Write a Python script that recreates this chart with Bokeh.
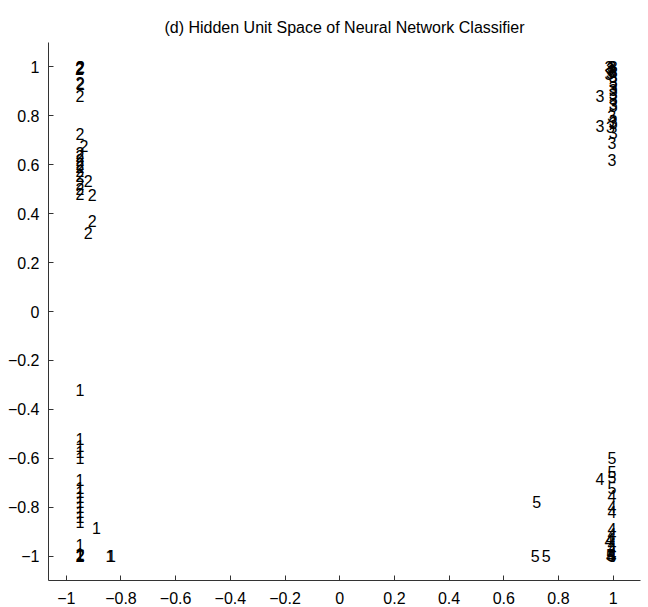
from bokeh.plotting import figure
from bokeh.models import ColumnDataSource, FixedTicker
from bokeh.core.properties import value
from bokeh.embed import file_html
from bokeh.resources import INLINE

# Hidden-unit activations (unit 1 on x, unit 2 on y), labelled by class
class1_x = [-0.95, -0.95, -0.95, -0.95, -0.95, -0.95, -0.95, -0.95, -0.95, -0.95,
            -0.95, -0.95, -0.95, -0.95, -0.89, -0.95, -0.95, -0.95, -0.84, -0.835]
class1_y = [-0.32, -0.52, -0.55, -0.575, -0.60, -0.69, -0.72, -0.74, -0.76, -0.78,
            -0.80, -0.82, -0.84, -0.86, -0.885, -0.955, -0.99, -1.0, -1.0, -1.0]

class2_x = [-0.95, -0.95, -0.948, -0.952, -0.95, -0.948, -0.95, -0.95, -0.935, -0.95,
            -0.95, -0.95, -0.95, -0.95, -0.95, -0.95, -0.92, -0.95, -0.95, -0.95,
            -0.905, -0.905, -0.92, -0.95, -0.948]
class2_y = [1.0, 0.995, 1.0, 0.99, 0.935, 0.93, 0.88, 0.725, 0.675, 0.65,
            0.635, 0.62, 0.605, 0.59, 0.575, 0.555, 0.535, 0.52, 0.50, 0.48,
            0.475, 0.37, 0.32, -1.0, -0.995]

class3_x = [0.985, 0.995, 1.0, 0.99, 0.995, 0.99, 0.985, 1.0, 1.0, 1.0,
            1.0, 1.0, 1.0, 1.0, 0.952, 1.0, 1.0, 0.995, 1.0, 1.0,
            0.952, 0.99, 1.0, 0.996, 0.996]
class3_y = [1.0, 1.0, 1.0, 0.99, 0.985, 0.975, 0.97, 0.98, 0.96, 0.94,
            0.92, 0.905, 0.89, 0.87, 0.88, 0.85, 0.84, 0.80, 0.78, 0.77,
            0.76, 0.755, 0.73, 0.69, 0.62]

class4_x = [0.952, 0.996, 0.996, 0.996, 0.996, 0.996, 0.99, 0.985, 0.996, 0.996, 0.996, 0.996, 0.99]
class4_y = [-0.685, -0.755, -0.80, -0.82, -0.89, -0.91, -0.93, -0.94, -0.95, -0.97, -0.99, -1.0, -1.0]

class5_x = [0.996, 0.996, 0.996, 0.996, 0.72, 0.715, 0.755, 0.996, 0.99]
class5_y = [-0.60, -0.655, -0.675, -0.72, -0.78, -1.0, -1.0, -1.0, -0.995]

xticks = [-1, -0.8, -0.6, -0.4, -0.2, 0, 0.2, 0.4, 0.6, 0.8, 1]
xtick_labels = ["\u22121", "\u22120.8", "\u22120.6", "\u22120.4", "\u22120.2", "0",
                "0.2", "0.4", "0.6", "0.8", "1"]
yticks = [-1, -0.8, -0.6, -0.4, -0.2, 0, 0.2, 0.4, 0.6, 0.8, 1]
ytick_labels = ["\u22121", "\u22120.8", "\u22120.6", "\u22120.4", "\u22120.2", "0",
                "0.2", "0.4", "0.6", "0.8", "1"]

FONT = "Liberation Sans"

p = figure(width=648, height=607, x_range=(-1.065, 1.1), y_range=(-1.1, 1.1),
           output_backend="svg", toolbar_location=None,
           title="(d) Hidden Unit Space of Neural Network Classifier",
           min_border_left=48, min_border_right=8, min_border_top=42,
           min_border_bottom=27)

p.title.align = "center"
p.title.text_font = FONT
p.title.text_font_size = "16px"
p.title.text_font_style = "normal"
p.title.text_color = "black"
p.title.offset = -4
p.title.standoff = 14

p.grid.visible = False
p.outline_line_color = None
p.background_fill_color = "white"
p.border_fill_color = "white"

for ax, ticks, labels in ((p.xaxis[0], xticks, xtick_labels), (p.yaxis[0], yticks, ytick_labels)):
    ax.ticker = FixedTicker(ticks=ticks)
    ax.major_label_overrides = {t: l for t, l in zip(ticks, labels)}
    ax.minor_tick_line_color = None
    ax.major_tick_in = 5
    ax.major_tick_out = 0
    ax.axis_line_color = "#333333"
    ax.major_tick_line_color = "#333333"
    ax.major_label_text_font = FONT
    ax.major_label_text_font_size = "16px"
    ax.major_label_text_color = "black"
p.xaxis.major_label_standoff = 11
p.yaxis.major_label_standoff = 9

classes = [("1", class1_x, class1_y), ("2", class2_x, class2_y), ("3", class3_x, class3_y),
           ("4", class4_x, class4_y), ("5", class5_x, class5_y)]
for name, xs, ys in classes:
    src = ColumnDataSource(dict(x=xs, y=ys, t=[name] * len(xs)))
    p.text(x="x", y="y", text="t", source=src, text_align="center",
           text_baseline="middle", text_font=value(FONT), text_font_size="16px",
           text_color="black")

open("out.html", "w").write(file_html(p, INLINE))
